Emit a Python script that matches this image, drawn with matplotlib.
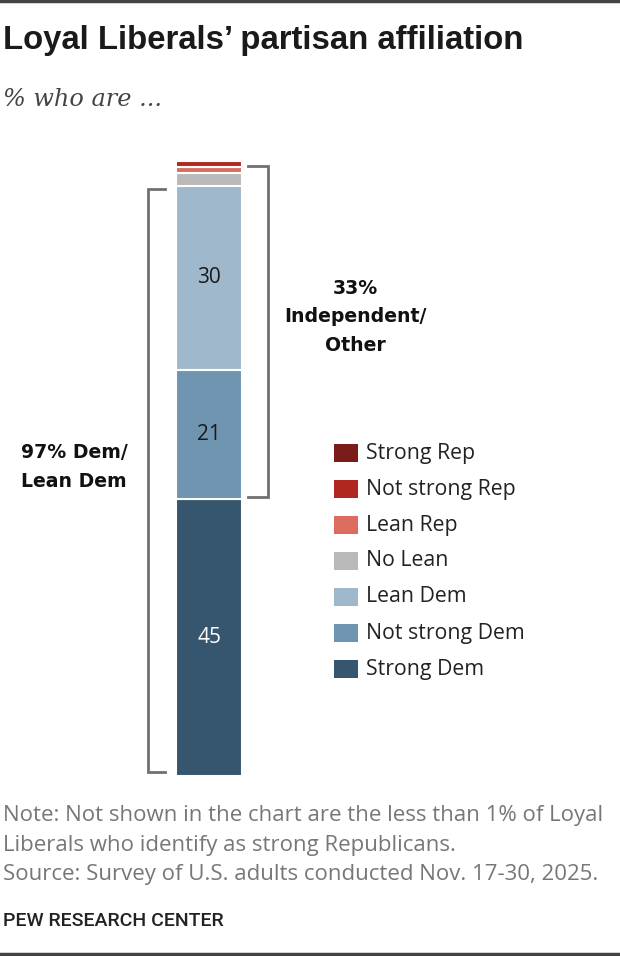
import matplotlib.pyplot as plt
from matplotlib.patches import Rectangle
import numpy as np

plt.rcParams['font.family'] = ['Open Sans', 'DejaVu Sans']

# data, bottom to top of the bar
categories = ["Strong Dem", "Not strong Dem", "Lean Dem", "No Lean", "Lean Rep", "Not strong Rep", "Strong Rep"]
values = [45, 21, 30, 2, 1, 1, 0]
labels_shown = ["45", "21", "30", "", "", "", ""]
colors = ["#36566f", "#6e94b0", "#a0b8cb", "#b9b9b9", "#dc6b60", "#b0271f", "#7a1c1a"]
label_colors = ["white", "#1a1a1a", "#1a1a1a"]

W, H = 620, 956
fig = plt.figure(figsize=(W / 100, H / 100), dpi=100)

def fy(y):
    return 1 - y / H

# bar axes: pixel x, percent y
ax = fig.add_axes([0, fy(776), 1, 615 / H])
ax.set_xlim(0, W)
ax.set_ylim(0, 100)
ax.axis("off")

bottoms = np.concatenate([[0], np.cumsum(values)[:-1]])
for v, b, c in zip(values, bottoms, colors):
    if v > 0:
        ax.bar(209, v, bottom=b, width=66, color=c, edgecolor="white", linewidth=1.5)
for v, b, lab, lc in zip(values, bottoms, labels_shown, label_colors):
    if lab:
        ax.text(209, b + v / 2, lab, ha="center", va="center", fontsize=15, color=lc)

# brackets
br = "#707070"
ax.plot([165, 148, 148, 165], [95.4, 95.4, 0.6, 0.6], color=br, lw=2, solid_joinstyle="miter")
ax.plot([248, 268, 268, 248], [99.2, 99.2, 45.3, 45.3], color=br, lw=2, solid_joinstyle="miter")

fig.text(355 / W, fy(317), "33%\nIndependent/\nOther", ha="center", va="center",
         fontsize=13.6, fontweight="bold", family="DejaVu Sans", color="#111111", linespacing=1.65)
fig.text(74 / W, fy(467), "97% Dem/\nLean Dem", ha="center", va="center",
         fontsize=13.6, fontweight="bold", family="DejaVu Sans", color="#111111", linespacing=1.65)

# legend, top to bottom
for i, (cat, c) in enumerate(zip(categories[::-1], colors[::-1])):
    y = 453 + 36 * i
    fig.patches.append(Rectangle((334 / W, fy(y + 9)), 24 / W, 18 / H, transform=fig.transFigure,
                                 facecolor=c, edgecolor="none"))
    fig.text(366 / W, fy(y), cat, ha="left", va="center", fontsize=15.3, color="#222222")

# titles
fig.text(3 / W, fy(40), "Loyal Liberals\u2019 partisan affiliation", ha="left", va="center",
         fontsize=23.7, fontweight="bold", family="Liberation Sans", color="#1a1a1a")
fig.text(3 / W, fy(100), "% who are ...", ha="left", va="center", fontsize=17.3,
         family="DejaVu Serif", style="italic", color="#444444")

note = ("Note: Not shown in the chart are the less than 1% of Loyal\n"
        "Liberals who identify as strong Republicans.\n"
        "Source: Survey of U.S. adults conducted Nov. 17-30, 2025.")
fig.text(3 / W, fy(845), note, ha="left", va="center", fontsize=16, color="#777777", linespacing=1.53)
fig.text(3 / W, fy(921), "PEW RESEARCH CENTER", ha="left", va="center", fontsize=14,
         fontweight="medium", family="Roboto", color="#222222")

# top and bottom rules
fig.add_artist(plt.Line2D([0, 1], [fy(1), fy(1)], transform=fig.transFigure, color="#444444", lw=2.5))
fig.add_artist(plt.Line2D([0, 1], [fy(954), fy(954)], transform=fig.transFigure, color="#444444", lw=2.5))

fig.savefig("out.png", dpi=100)
